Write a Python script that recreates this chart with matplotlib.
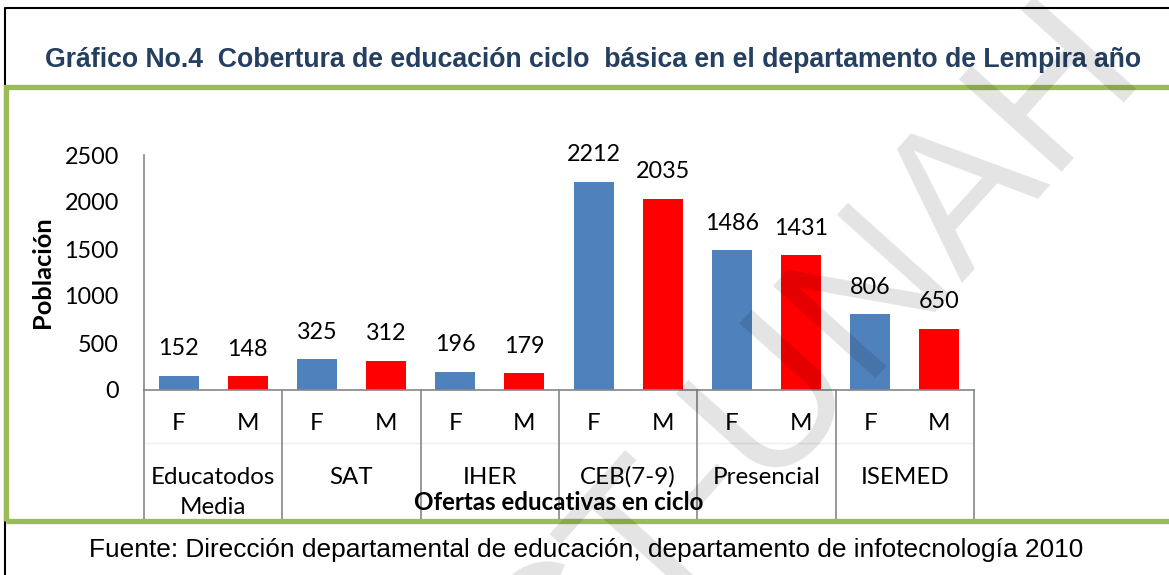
import matplotlib
matplotlib.use("Agg")
import matplotlib.pyplot as plt
import matplotlib.transforms as mtransforms
from matplotlib.lines import Line2D
from matplotlib.patches import Rectangle

W, H = 1169, 575

groups = ["Educatodos\nMedia", "SAT", "IHER", "CEB(7-9)", "Presencial", "ISEMED"]
sexes = ["F", "M"]
femenino = [152, 325, 196, 2212, 1486, 806]
masculino = [148, 312, 179, 2035, 1431, 650]
yticks = [0, 500, 1000, 1500, 2000, 2500]

title = "Gráfico No.4  Cobertura de educación ciclo  básica en el departamento de Lempira año"
ylabel = "Población"
xlabel = "Ofertas educativas en ciclo"
fuente = "Fuente: Dirección departamental de educación, departamento de infotecnología 2010"
watermark = "CT-UNAH"

BLUE = "#4F81BD"
RED = "#FF0000"
GRID = "#868686"
FONT = ["Lato", "DejaVu Sans"]
ARIAL = ["Liberation Sans", "DejaVu Sans"]
FS_NUM = 16.8
FS_TXT = 17.4

fig = plt.figure(figsize=(W / 100, H / 100), dpi=100)
fig.patch.set_facecolor("white")

def fx(x):
    return x / W

def fy(y):
    return 1 - y / H

# axes: x from 144 to 974 px, y from 155 (2500) to 390 (0)
ax = fig.add_axes([fx(144), fy(390), (974 - 144) / W, (390 - 155) / H])
ax.set_xlim(-0.5, 11.5)
ax.set_ylim(0, 2500)

xpos = []
vals = []
cols = []
labs = []
for i in range(len(groups)):
    xpos += [2 * i, 2 * i + 1]
    vals += [femenino[i], masculino[i]]
    cols += [BLUE, RED]
    labs += sexes

bars = ax.bar(xpos, vals, width=0.58, color=cols, zorder=2)
for b, v in zip(bars, vals):
    ax.annotate(str(v), (b.get_x() + b.get_width() / 2, v), xytext=(0, 19.5),
                textcoords="offset points", ha="center", va="center",
                fontsize=FS_NUM, family=FONT, color="black")

for s in ["top", "right"]:
    ax.spines[s].set_visible(False)
ax.spines["left"].set_color(GRID)
ax.spines["bottom"].set_color(GRID)
ax.spines["left"].set_linewidth(1.2)
ax.spines["bottom"].set_linewidth(1.2)
ax.set_yticks(yticks)
ax.set_yticklabels([str(t) for t in yticks], fontsize=FS_NUM, family=FONT)
ax.tick_params(axis="y", length=0, pad=18)
ax.set_xticks([])
ax.set_facecolor("none")

bt = mtransforms.blended_transform_factory(ax.transData, fig.transFigure)

# category separators
for k in range(len(groups) + 1):
    x = 2 * k - 0.5
    fig.add_artist(Line2D([x, x], [fy(390), fy(521)], transform=bt,
                          color=GRID, lw=1.2, zorder=3))
# faint horizontal line between levels
fig.add_artist(Line2D([-0.5, 11.5], [fy(443), fy(443)], transform=bt,
                      color="#EEEEEE", lw=1.0, zorder=1))

for x, l in zip(xpos, labs):
    fig.text(x, fy(424), l, transform=bt, ha="center", va="center",
             fontsize=FS_TXT, family=FONT)
for i, g in enumerate(groups):
    for j, ln in enumerate(g.split("\n")):
        fig.text(2 * i + 0.5, fy(477 + 31 * j), ln, transform=bt, ha="center",
                 va="center", fontsize=FS_TXT, family=FONT)

fig.text(fx(559), fy(503), xlabel, ha="center", va="center", fontsize=FS_TXT,
         family=FONT, fontweight="bold")
fig.text(fx(42), fy(272), ylabel, ha="center", va="center", rotation=90,
         fontsize=18.3, family=FONT, fontweight="bold")

# title and footer
fig.text(fx(593), fy(60), title, ha="center", va="center", fontsize=19.2,
         family=ARIAL, fontweight="bold", color="#243F60")
fig.text(fx(586), fy(550), fuente, ha="center", va="center", fontsize=18.9,
         family=ARIAL, color="black")

# outer black frame
fig.add_artist(Line2D([fx(5), fx(5), fx(1175)], [fy(580), fy(8), fy(8)],
                      transform=fig.transFigure, color="black", lw=1.5, zorder=1))
# green frame
fig.add_artist(Rectangle((fx(5.5), fy(521)), fx(1200), (521 - 87) / H,
                         transform=fig.transFigure, fill=False,
                         edgecolor="#9BBB59", lw=3.8, zorder=4))

# watermark
fig.text(fx(1145), fy(68), watermark, ha="right", va="baseline", rotation=48,
         rotation_mode="anchor", fontsize=144,
         family=["Liberation Sans", "DejaVu Sans"],
         color="black", alpha=0.11, zorder=10)

fig.savefig("out.png", dpi=100)
